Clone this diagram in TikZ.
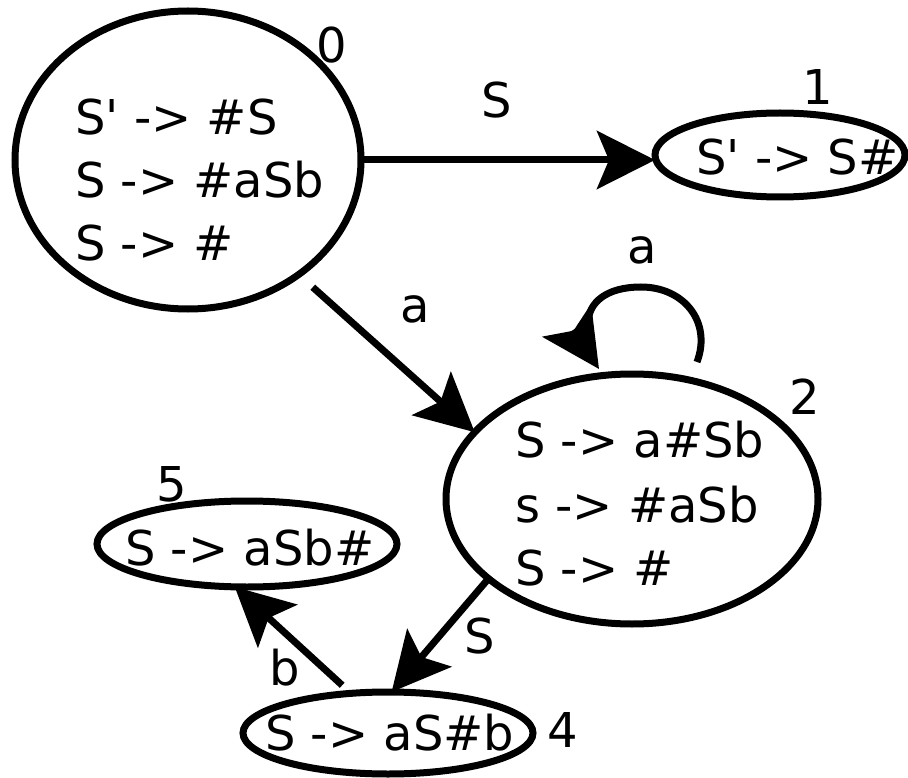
\documentclass[tikz,border=0pt]{standalone}
\usepackage{fontspec}
\setmainfont{DejaVu Sans}[Ligatures=TeXOff]
\usetikzlibrary{arrows.meta,shapes.geometric}
\tikzset{
  st/.style={draw, ellipse, line width=7pt, inner sep=0pt, outer sep=0pt},
  txt/.style={anchor=base west, inner sep=0pt, font=\fontsize{48}{63}\selectfont},
  lbl/.style={anchor=base, inner sep=0pt, font=\fontsize{48}{63}\selectfont},
  arr/.style={line width=7pt, -{Stealth[length=58pt, width=58pt, inset=12pt]}}
}
\begin{document}
\begin{tikzpicture}[x=1pt, y=-1pt]
\useasboundingbox (0,0) rectangle (908,778);
% states
\node[st, minimum width=346pt, minimum height=298pt] (n0) at (188,160) {};
\node[st, minimum width=250pt, minimum height=84pt] (n1) at (780,155) {};
\node[st, minimum width=372pt, minimum height=250pt] (n2) at (632,499) {};
\node[st, minimum width=300pt, minimum height=86pt] (n5) at (247,544) {};
\node[st, minimum width=290pt, minimum height=82pt] (n4) at (388,733) {};
% texts
\node[txt] (t0a) at (75,134.5) {S' -> \#S};
\node[txt] (t0b) at (75,197.5) {S -> \#aSb};
\node[txt] (t0c) at (75,260.5) {S -> \#};
\node[txt] (t1) at (696,174.5) {S' -> S\#};
\node[txt] (t2a) at (515,457.5) {S -> a\#Sb};
\node[txt] (t2b) at (515,522) {s -> \#aSb};
\node[txt] (t2c) at (515,585.5) {S -> \#};
\node[txt] (t5) at (125,565.5) {S -> aSb\#};
\node[txt] (t4) at (265,750.5) {S -> aS\#b};
% state numbers
\node[lbl] (l0) at (332,62.5) {0};
\node[lbl] (l1) at (818,104.5) {1};
\node[lbl] (l2) at (805,414.5) {2};
\node[lbl] (l5) at (172,501.5) {5};
\node[lbl] (l4) at (563,747.5) {4};
% transitions
\draw[arr] (n0.east) -- (n0.east -| n1.west);
\node[lbl] (e01) at (497,117.5) {S};
\draw[arr, shorten <=19pt] (n0.-46) -- (n2.157);
\node[lbl] (e02) at (415,322) {a};
\coordinate (ls) at (697,362);
\coordinate (lj) at (588,324);
\coordinate (lb) at (573,330);
\coordinate (le) at (599,369);
\draw[arr] (ls) .. controls (712,322) and (684,287) .. (641,287)
  .. controls (607,287) and (588,302) .. (lj) (lb) -- (le);
\node[lbl] (e22) at (642,264) {a};
\draw[arr] (n2.-151) -- (n4.85);
\node[lbl] (e24) at (480,653) {S};
\draw[arr, shorten <=12pt] (n4.133) -- (n5.-106);
\node[lbl] (e45) at (285,685) {b};
\end{tikzpicture}
\end{document}
